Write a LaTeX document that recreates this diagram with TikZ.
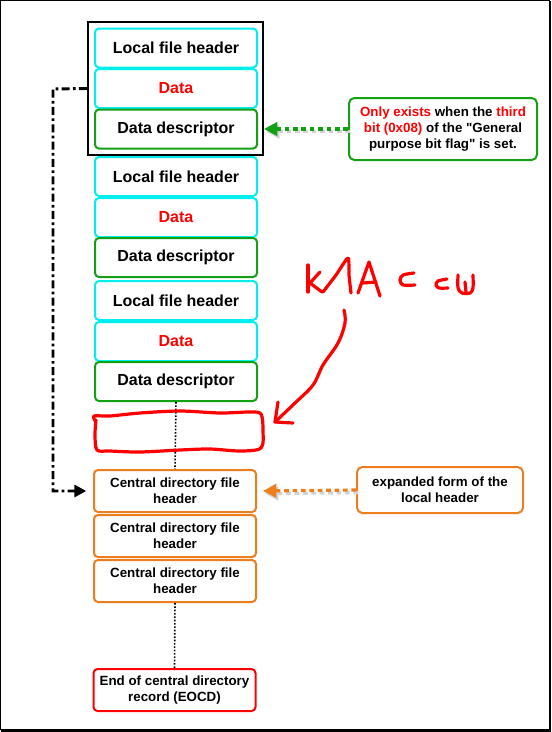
\documentclass[tikz,border=0pt]{standalone}
\usepackage{fontspec}
\setmainfont{Liberation Sans}
\usetikzlibrary{arrows.meta}
\definecolor{cy}{RGB}{0,238,238}
\definecolor{gn}{RGB}{20,160,20}
\definecolor{og}{RGB}{238,125,30}
\definecolor{rd}{RGB}{255,0,0}
\tikzset{
  x=0.75pt, y=-0.75pt,
  fbox/.style={draw, rounded corners=3pt, line width=1.5pt, minimum width=121.5pt, minimum height=29.25pt, inner sep=0pt, align=center, font=\fontsize{12pt}{14pt}\selectfont\bfseries},
  cbox/.style={draw, rounded corners=3pt, line width=1.5pt, minimum width=121.5pt, minimum height=31.5pt, inner sep=0pt, align=center, font=\fontsize{10pt}{12pt}\selectfont\bfseries},
  note/.style={draw, rounded corners=4pt, line width=1.5pt, inner sep=0pt, align=center, font=\fontsize{10pt}{12pt}\selectfont\bfseries},
  dotv/.style={line width=1.2pt, dash pattern=on 1.2pt off 1.3pt},
  ink/.style={rd, line width=2.4pt, line cap=round, line join=round},
  darrow/.style={line width=2.4pt, dash pattern=on 3.5pt off 2.8pt, -{Triangle[length=10pt,width=10pt]}},
}
\begin{document}
\begin{tikzpicture}
\useasboundingbox (0,0) rectangle (551,732);
% outer frame
\draw[line width=0.75pt] (0.5,0.5) rectangle (549.5,729.5);
\draw[line width=1.6pt] (550,1) -- (550,730.5) -- (1,730.5);

% group box
\node[draw, line width=1.75pt, minimum width=131pt, minimum height=99.75pt, inner sep=0pt] (grp) at (175.5,88.5) {};

\node[fbox, draw=cy] (b1) at (176,48) {Local file header};
\node[fbox, draw=cy, text=rd] (b2) at (176,88.5) {Data};
\node[fbox, draw=gn] (b3) at (176,129) {Data descriptor};
\node[fbox, draw=cy] (b4) at (176,176.5) {Local file header};
\node[fbox, draw=cy, text=rd] (b5) at (176,217.5) {Data};
\node[fbox, draw=gn] (b6) at (176,257.5) {Data descriptor};
\node[fbox, draw=cy] (b7) at (176,300.5) {Local file header};
\node[fbox, draw=cy, text=rd] (b8) at (176,341.5) {Data};
\node[fbox, draw=gn] (b9) at (176,381.5) {Data descriptor};

\node[cbox, draw=og] (c1) at (175,491) {Central directory file\\header};
\node[cbox, draw=og] (c2) at (175,536) {Central directory file\\header};
\node[cbox, draw=og] (c3) at (175,581) {Central directory file\\header};
\node[cbox, draw=rd] (eo) at (174.5,690) {End of central directory\\record (EOCD)};

\node[note, draw=gn, minimum width=141pt, minimum height=46.5pt] (n1) at (443,129)
  {\textcolor{rd}{Only exists} when the \textcolor{rd}{third}\\\textcolor{rd}{bit (0x08)} of the \textquotedbl General\\purpose bit flag\textquotedbl{} is set.};
\node[note, draw=og, minimum width=124.5pt, minimum height=34.5pt] (n2) at (440,490)
  {expanded form of the\\local header};

% dotted connectors
\draw[dotv] (b9.south) -- (c1.north);
\draw[dotv] (c3.south) -- (eo.north);

% dash-dot connector
\coordinate (k1) at (53,89);
\coordinate (k2) at (53,491);
\draw[line width=2.2pt, dash pattern=on 6pt off 2.5pt on 2pt off 2.5pt, -{Triangle[length=9pt,width=9pt]}, shorten >=5pt]
  (grp.west) -- (k1) -- (k2) -- (c1.west);

% note arrows with shadows
\draw[darrow, gray!35, shorten >=4.5pt, transform canvas={shift={(1.5pt,-2pt)}}] (n1.west) -- (b3.east);
\draw[darrow, gn, shorten >=4.5pt] (n1.west) -- (b3.east);
\draw[darrow, gray!35, shorten >=4.5pt, transform canvas={shift={(1.5pt,-2pt)}}] (n2.west) -- (c1.east);
\draw[darrow, og, shorten >=4.5pt] (n2.west) -- (c1.east);

% red scribbled box
\draw[ink] plot[smooth, tension=0.5] coordinates {(96,422) (94,416) (110,416) (140,413) (180,411) (220,413) (250,412) (261,414) (263,430) (261,448) (240,451) (210,449) (180,450) (140,452) (110,451) (97,450) (95,435) (96,420)};

% handwriting
\draw[ink] (308,265) -- (308,292);
\draw[ink] (320,272) -- (310,283) -- (322,292);
\draw[ink] plot[smooth, tension=0.4] coordinates {(323,292) (336,275) (348,258) (349,275) (351,293)};
\draw[ink] (358,293) -- (369,262) -- (380,296);
\draw[ink] (363,283) -- (376,282);
\draw[ink] plot[smooth, tension=0.5] coordinates {(414,273) (403,275) (400,280) (403,285) (415,285)};
\draw[ink] plot[smooth, tension=0.5] coordinates {(447,279) (438,281) (436,285) (439,288) (448,288)};
\draw[ink] plot[smooth, tension=0.5] coordinates {(458,275) (458,288) (462,293) (470,293) (473,288) (473,275)};
\draw[ink] (465,282) -- (466,292);
\draw[ink] plot[smooth, tension=0.6] coordinates {(344,310) (345,323) (338,343) (323,365) (313,385) (295,403) (275,422)};
\draw[ink] (278,402) -- (275,422) -- (293,423);
\end{tikzpicture}
\end{document}
